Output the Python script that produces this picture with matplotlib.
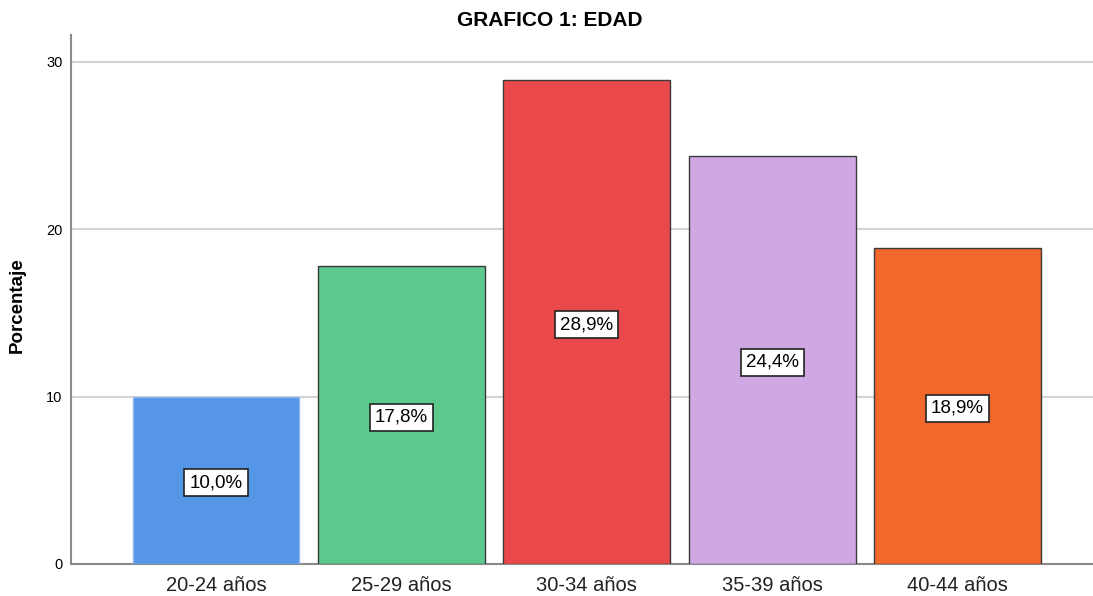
import matplotlib
matplotlib.use("Agg")
import matplotlib.pyplot as plt

plt.rcParams['font.family'] = ['Liberation Sans', 'DejaVu Sans']

# Distribución por grupo de edad (%)
grupos = ["20-24 años", "25-29 años", "30-34 años", "35-39 años", "40-44 años"]
porcentajes = [10.0, 17.8, 28.9, 24.4, 18.9]
colores = ["#5596E6", "#5CC98D", "#EA494C", "#CFA8E3", "#F2672B"]
bordes = ["#8FB8EE", "#3a3a3a", "#3a3a3a", "#3a3a3a", "#3a3a3a"]

fig = plt.figure(figsize=(10.93, 5.96), dpi=100)
ax = fig.add_axes([0.065, 0.054, 0.935, 0.887])

x = range(len(grupos))
ax.bar(x, porcentajes, width=0.9, color=colores, edgecolor=bordes,
       linewidth=1.0, zorder=3)

# etiquetas con el valor en el centro de cada barra
for i, v in enumerate(porcentajes):
    ax.text(i, v / 2 - 0.15, f"{v:.1f}%".replace(".", ","), ha="center", va="center",
            fontsize=13.5, zorder=4,
            bbox=dict(boxstyle="square,pad=0.27", fc="white", ec="#222222", lw=1.2))

ax.set_xlim(-0.782, 4.731)
ax.set_ylim(0, 31.6)
ax.set_yticks([0, 10, 20, 30])
ax.set_xticks(list(x))
ax.set_xticklabels(grupos, fontsize=14.5, color="#222222")
ax.tick_params(axis="y", length=0, labelsize=10.5, pad=6)
ax.tick_params(axis="x", length=0, pad=9)

ax.yaxis.grid(True, color="#d4d4d4", linewidth=1.5, zorder=0)
ax.set_axisbelow(True)

for s in ["top", "right"]:
    ax.spines[s].set_visible(False)
for s in ["left", "bottom"]:
    ax.spines[s].set_color("#8a8a8a")
    ax.spines[s].set_linewidth(1.5)

ax.set_ylabel("Porcentaje", fontsize=13.5, fontweight="bold", va="center")
ax.yaxis.set_label_coords(-0.053, 0.49)
fig.suptitle("GRAFICO 1: EDAD", fontsize=15, fontweight="bold",
             x=0.503, y=0.966, va="center")

fig.savefig("out.png", dpi=100)
